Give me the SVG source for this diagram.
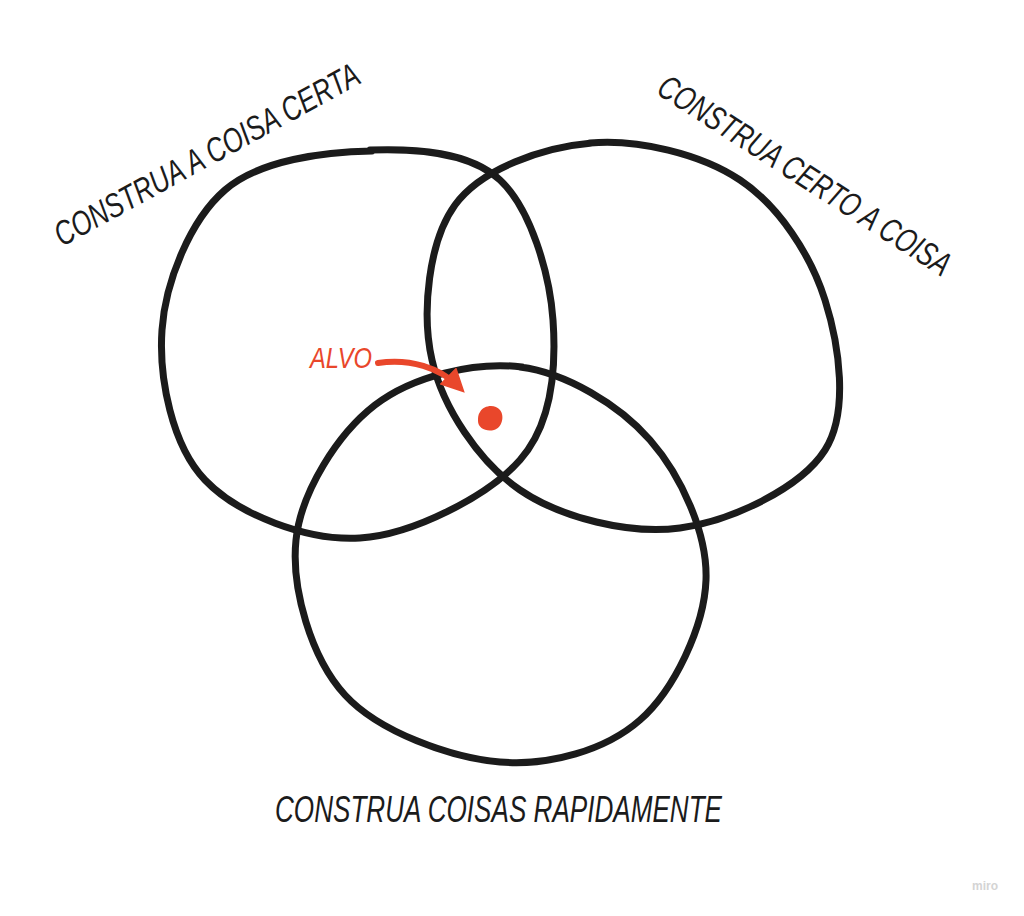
<svg xmlns="http://www.w3.org/2000/svg" width="1024" height="916" viewBox="0 0 1024 916">
  <style>
    .ring { fill: none; stroke: #1b1b1b; stroke-width: 7; stroke-linecap: round; stroke-linejoin: round; }
    .lbl { font-family: "Liberation Sans Narrow", "Liberation Sans", sans-serif; font-style: italic; fill: #1b1b1b; }
    .red { fill: #e9472b; }
  </style>
  <defs>
    <marker id="arrowhead" viewBox="0 0 10 10" refX="6" refY="5" markerWidth="4" markerHeight="4" orient="auto" markerUnits="strokeWidth">
      <path d="M0,0 L10,5 L0,10 Z" fill="#e9472b"/>
    </marker>
  </defs>
  <rect width="1024" height="916" fill="#ffffff"/>

  <g id="circle-coisa-certa">
    <path class="ring" d="M370,150 C415.8,148.3 469.5,151.7 500,180 C530.5,208.3 549.7,273.3 553,320 C556.3,366.7 552.2,423.7 520,460 C487.8,496.3 412.5,534.7 360,538 C307.5,541.3 238,514.7 205,480 C172,445.3 158.7,378.3 162,330 C165.3,281.7 190.3,220 225,190 C259.7,160 324.2,151.7 372,151"/>
  </g>
  <g id="circle-certo-a-coisa">
    <path class="ring" d="M590,143 C637.5,138.8 700.8,153.8 740,180 C779.2,206.2 810.8,255 825,300 C839.2,345 849.2,412 825,450 C800.8,488 730.8,521.3 680,528 C629.2,534.7 561.3,518 520,490 C478.7,462 442.8,407.5 432,360 C421.2,312.5 428.7,241.2 455,205 C481.3,168.8 542.5,147.2 592,143"/>
  </g>
  <g id="circle-rapidamente">
    <path class="ring" d="M520,367 C565.8,372.8 619,404.5 650,440 C681,475.5 707.7,533.3 706,580 C704.3,626.7 674.3,689.7 640,720 C605.7,750.3 549.2,766.2 500,762 C450.8,757.8 379,732 345,695 C311,658 291,588.3 296,540 C301,491.7 337.7,433.8 375,405 C412.3,376.2 474.2,361.2 522,367"/>
  </g>

  <g id="label-coisa-certa">
    <text class="lbl" x="0" y="0" font-size="34" textLength="343" lengthAdjust="spacingAndGlyphs" transform="translate(62,247) rotate(-28.7)">CONSTRUA A COISA CERTA</text>
  </g>
  <g id="label-certo-a-coisa">
    <text class="lbl" x="0" y="0" font-size="34" textLength="341" lengthAdjust="spacingAndGlyphs" transform="translate(655,93) rotate(32.7)">CONSTRUA CERTO A COISA</text>
  </g>
  <g id="label-rapidamente">
    <text class="lbl" x="275" y="822" font-size="36" textLength="447" lengthAdjust="spacingAndGlyphs">CONSTRUA COISAS RAPIDAMENTE</text>
  </g>

  <g id="target">
    <path class="red" d="M480,412 C484,405 495,404 500,410 C505,416 502,428 494,430 C486,432 478,428 478,421 C478,417 478,415 480,412 Z"/>
  </g>
  <g id="label-alvo">
    <text x="310" y="368" font-size="30" textLength="62" lengthAdjust="spacingAndGlyphs" class="lbl" style="fill:#e9472b">ALVO</text>
  </g>

  <g id="connectors">
    <path d="M378,363 C410,358 440,368 458,386" fill="none" stroke="#e9472b" stroke-width="6" stroke-linecap="round" marker-end="url(#arrowhead)"/>
  </g>

  <g id="watermark">
    <text x="985" y="890" font-family="'Liberation Sans', sans-serif" font-size="12" font-weight="bold" fill="#d4d4d4" text-anchor="middle">miro</text>
  </g>
</svg>
